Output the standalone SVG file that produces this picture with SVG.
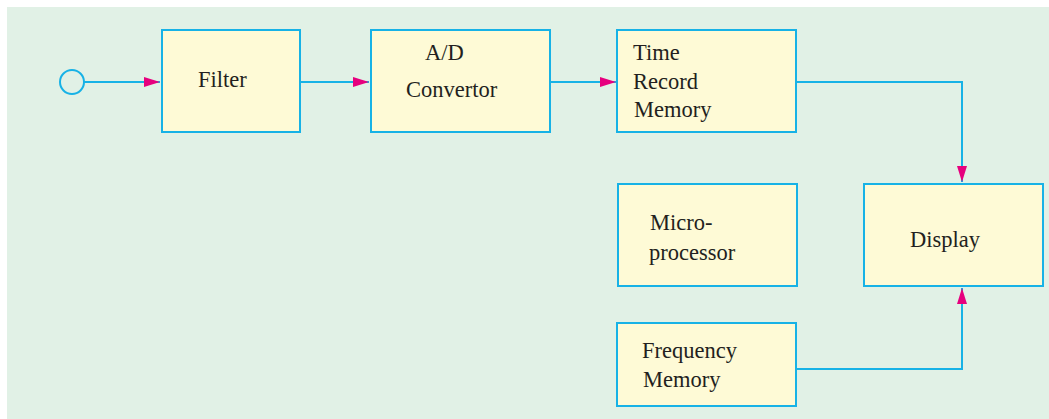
<svg xmlns="http://www.w3.org/2000/svg" width="1049" height="419" viewBox="0 0 1049 419">
<defs>
<style>
.box{fill:#fefad6;stroke:#17b2e6;stroke-width:2}
.ln{fill:none;stroke:#17b2e6;stroke-width:2}
.t{font-family:"Liberation Serif",serif;font-size:22.5px;fill:#231f20}
</style>
<marker id="ah" markerWidth="16" markerHeight="10" refX="16" refY="5" orient="auto" markerUnits="userSpaceOnUse">
<path d="M0,0 L16,5 L0,10 Z" fill="#e6007e"/>
</marker>
</defs>
<rect x="0" y="0" width="1049" height="419" fill="#ffffff"/>
<rect x="7" y="7" width="1042" height="412" fill="#e1f1e6"/>
<g id="connectors">
<circle cx="72" cy="82" r="12" class="ln"/>
<path d="M84,82 H160" class="ln" marker-end="url(#ah)"/>
<path d="M300,82 H369" class="ln" marker-end="url(#ah)"/>
<path d="M550,82 H616" class="ln" marker-end="url(#ah)"/>
<path d="M796,82 H962 V182" class="ln" marker-end="url(#ah)"/>
<path d="M796,369 H962 V288" class="ln" marker-end="url(#ah)"/>
</g>
<g id="filter"><rect class="box" x="162" y="30" width="138" height="102"/><text class="t" x="198" y="87">Filter</text></g>
<g id="adc"><rect class="box" x="371" y="30" width="179" height="102"/><text class="t" x="425" y="60">A/D</text><text class="t" x="406" y="97">Convertor</text></g>
<g id="trm"><rect class="box" x="617" y="30" width="179" height="102"/><text class="t" x="633" y="60">Time</text><text class="t" x="633" y="89">Record</text><text class="t" x="634" y="117">Memory</text></g>
<g id="micro"><rect class="box" x="618" y="184" width="179" height="102"/><text class="t" x="650" y="230">Micro-</text><text class="t" x="649" y="260">processor</text></g>
<g id="display"><rect class="box" x="864" y="184" width="179" height="102"/><text class="t" x="910" y="247">Display</text></g>
<g id="freq"><rect class="box" x="617" y="323" width="179" height="83"/><text class="t" x="642" y="358">Frequency</text><text class="t" x="643" y="387">Memory</text></g>
</svg>
